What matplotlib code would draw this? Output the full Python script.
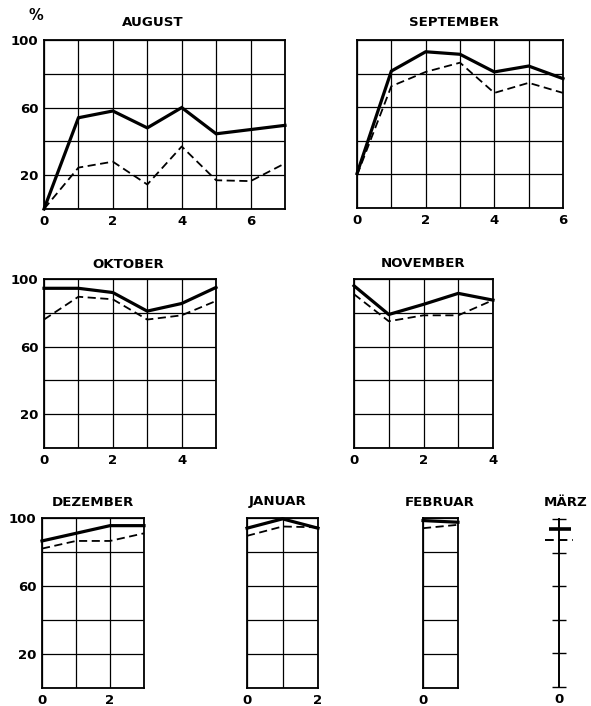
import matplotlib
matplotlib.use("Agg")
import matplotlib.pyplot as plt

# ---------------- data ----------------
months = ["AUGUST", "SEPTEMBER", "OKTOBER", "NOVEMBER",
          "DEZEMBER", "JANUAR", "FEBRUAR", "MÄRZ"]

aug_solid = [0, 54, 58, 48, 60, 44.5, 47, 49.5]
aug_dash = [0, 24.5, 28, 14.5, 37, 17, 16.5, 27]

sep_solid = [20.5, 81.5, 93, 91.5, 81, 84.5, 77]
sep_dash = [19.5, 72.5, 81, 86.5, 68.5, 74.5, 68.5]

okt_solid = [94.5, 94.5, 92, 81, 85.5, 95]
okt_dash = [76, 89.5, 88, 76, 78.5, 87]

nov_solid = [96, 79, 85, 91.5, 87.5]
nov_dash = [91, 75, 78.5, 78.5, 87.5]

dez_solid = [86.5, 91, 95.5, 95.5]
dez_dash = [82, 86.5, 86.5, 91]

jan_solid = [94, 99.5, 94]
jan_dash = [89.5, 95, 94.5]

feb_solid = [98.5, 97.5]
feb_dash = [94, 96]

mar_solid = [94]
mar_dash = [87.5]

solid_series = [aug_solid, sep_solid, okt_solid, nov_solid,
                dez_solid, jan_solid, feb_solid]
dash_series = [aug_dash, sep_dash, okt_dash, nov_dash,
               dez_dash, jan_dash, feb_dash]

y_ticks = [0, 20, 40, 60, 80, 100]
y_labels = ["", "20", "", "60", "", "100"]

# ---------------- layout (pixels: left, right, top, bottom) ----------------
W, H = 591, 706
boxes = [
    (44, 285, 40, 209),
    (357, 563, 40, 208),
    (44, 216, 279, 448),
    (354, 493, 279, 448),
    (42, 144, 518, 688),
    (247, 318, 518, 688),
    (423, 458, 518, 688),
]
title_pos = [(153, 23), (454, 22), (128, 265), (423, 264),
             (93, 502), (278, 502), (440, 502), (566, 502)]
show_ylabels = [True, False, True, False, True, False, False]

fig = plt.figure(figsize=(W / 100, H / 100), dpi=100)
FONT = dict(family="DejaVu Sans", weight="bold")


def px_axes(l, r, t, b):
    return fig.add_axes([l / W, 1 - b / H, (r - l) / W, (b - t) / H])


for i, (sol, dsh) in enumerate(zip(solid_series, dash_series)):
    l, r, t, b = boxes[i]
    ax = px_axes(l, r, t, b)
    n = len(sol)
    xs = list(range(n))
    ax.set_xlim(0, n - 1)
    ax.set_ylim(0, 100)
    ax.set_xticks(xs)
    ax.set_xticklabels([str(x) if x % 2 == 0 else "" for x in xs],
                       fontsize=9.5, **FONT)
    ax.set_yticks(y_ticks)
    if show_ylabels[i]:
        ax.set_yticklabels(y_labels, fontsize=9.5, **FONT)
    else:
        ax.set_yticklabels([])
    ax.tick_params(length=0, pad=4)
    ax.grid(True, color="black", lw=0.9)
    for s in ax.spines.values():
        s.set_linewidth(1.3)
        s.set_color("black")
    ax.plot(xs, sol, color="black", lw=2.3, solid_joinstyle="miter",
            clip_on=False, zorder=4)
    ax.plot(xs, dsh, color="black", lw=1.3, dashes=(4.5, 2.5),
            clip_on=False, zorder=4)

# März: single axis line with ticks
l, r, t, b = 539, 579, 519, 687
axm = px_axes(l, r, t, b)
axm.set_xlim(-1, 1)
axm.set_ylim(0, 100)
for side in ["top", "right", "bottom"]:
    axm.spines[side].set_visible(False)
axm.spines["left"].set_position(("data", 0))
axm.spines["left"].set_linewidth(1.4)
axm.set_yticks(y_ticks)
axm.set_yticklabels([])
axm.tick_params(axis="y", direction="inout", length=10, width=1.0)
axm.set_xticks([0])
axm.set_xticklabels(["0"], fontsize=9.5, **FONT)
axm.tick_params(axis="x", length=0, pad=4)
axm.patch.set_visible(False)
axm.hlines(mar_solid, -0.5, 0.62, color="black", lw=2.6)
axm.hlines(mar_dash, -0.7, 0.7, color="black", lw=1.4,
           linestyles=(0, (4.5, 2.5)))

for name, (x, y) in zip(months, title_pos):
    fig.text(x / W, 1 - y / H, name, ha="center", va="center",
             fontsize=9.6, **FONT)

fig.text(36 / W, 1 - 15 / H, "%", ha="center", va="center",
         fontsize=10.5, **FONT)

fig.savefig("out.png", dpi=100)
